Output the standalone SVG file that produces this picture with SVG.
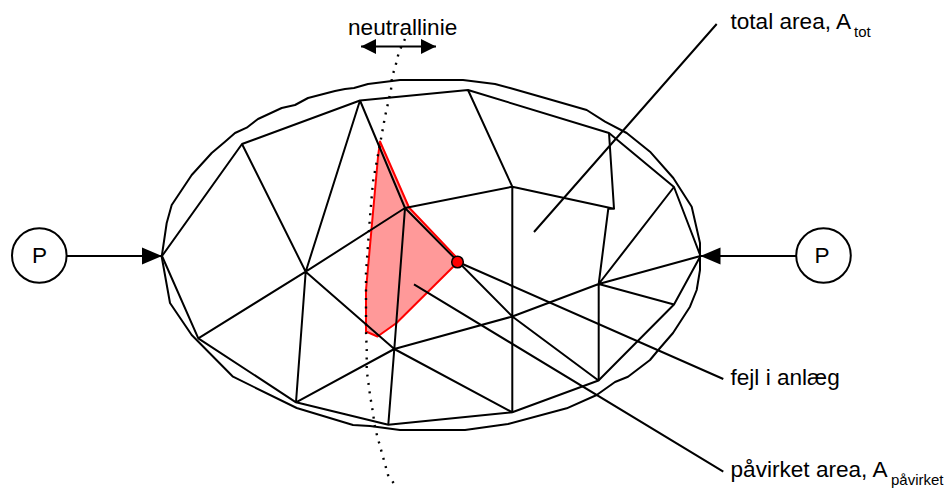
<svg xmlns="http://www.w3.org/2000/svg" width="951" height="488" viewBox="0 0 951 488">
<style>
.l{fill:none;stroke:#000;stroke-width:2;stroke-linejoin:round}
.t{font-family:"Liberation Sans",Arial,sans-serif;font-size:22.6px;fill:#000}
.s{font-size:15px}
.h{fill:#000;stroke:none}
</style>
<defs>
<marker id="a" markerUnits="userSpaceOnUse" markerWidth="20" markerHeight="18" refX="20" refY="9" orient="auto-start-reverse"><path class="h" d="M0 0.5L20 9L0 17.5Z"/></marker>
<marker id="b" markerUnits="userSpaceOnUse" markerWidth="15" markerHeight="16" refX="15" refY="8" orient="auto-start-reverse"><path class="h" d="M0 0.5L15 8L0 15.5Z"/></marker>
</defs>
<rect width="951" height="488" fill="#fff"/>
<g id="outline"><path class="l" d="M161.700 256.700L166.700 223L171.700 205L191.700 175L211.700 153L225 141.700L235 133L246.700 127.700L258 119L281.700 108L295 105L308 98L335 91L345 89L354 88L368 84L400 80L463 80L495 84L510 88L545 98L586.700 110L605 121.700L626.700 133L650 151.700L673.300 178L691.700 206.700L700 243L700 270L696.700 290L690 306.700L673 333L660 348L650 360L628 376.700L615 382L596.700 395L566.700 408.300L508 424L465 430L400 430L370 426L353 425L296.700 408L233 376.700L191.700 335L170 303Z"/></g>
<g id="affected-area"><path d="M380 141.500L409 207.500L457 258L458 262L396.500 323L377.500 336.500L366 331.500L366 290L378 157Z" fill="#ff9999" stroke="#f00" stroke-width="2" stroke-linejoin="round"/></g>
<g id="mesh"><path class="l" d="M162 256L242 144L360 100.500L468 90L609 133L674 187L700.500 256L674 304.500L598.500 380.500L512.300 412.300L388.300 424.700L296 402.300L198.300 338.300Z"/>
<path class="l" d="M242 144L305.700 271.700M360 100.500L305.700 271.700M198.300 338.300L305.700 271.700L405 208L360 100.500M305.700 271.700L296 402.300M305.700 271.700L394.300 349M296 402.300L394.300 349L388.300 424.700M394.300 349L405 208M394.300 349L512.300 412.300M405 208L512.300 186.700L468 90M405 208L512.300 316.500L598.500 380.500M512.300 186.700V412.300M512.300 186.700L614 208.700L609 133M614 208.700H608.300L598.700 284M394.300 349L512.300 316.500L598.700 284L700.500 256M598.700 284L674 187M598.700 284L674 304.500M598.700 284V380.500"/></g>
<g id="neutral-line"><path d="M405 39L399 51.700L395 68L392 76.700L391 90L385 116.700L381.700 135L373 181.700L370 216.700L366 273L366 330L366.700 350L366.700 370L370 395L373 413L375 428L388 475L395 485" fill="none" stroke="#000" stroke-width="2.400" stroke-dasharray="2 6.500"/></g>
<g id="connectors">
<path class="l" d="M67 256H162" marker-end="url(#a)"/>
<path class="l" d="M796 256H700.500" marker-end="url(#a)"/>
<path class="l" d="M361 46.500H436" marker-start="url(#b)" marker-end="url(#b)"/>
<path class="l" d="M534 232L716.700 24M458 262L723.300 379M414 284.300L723.300 471.700"/>
</g>
<g id="fault"><circle cx="457.500" cy="262" r="5.800" fill="#f00" stroke="#000" stroke-width="1.500"/></g>
<g id="p-left"><circle cx="39.300" cy="255.500" r="27.300" fill="#fff" stroke="#000" stroke-width="2"/><text class="t" x="39.500" y="263" text-anchor="middle">P</text></g>
<g id="p-right"><circle cx="823.500" cy="255.500" r="27.300" fill="#fff" stroke="#000" stroke-width="2"/><text class="t" x="822" y="263" text-anchor="middle">P</text></g>
<g id="label-neutral"><text class="t" x="348" y="35">neutrallinie</text></g>
<g id="label-total"><text class="t" x="730.500" y="29">total area, A</text><text class="t s" x="854" y="37">tot</text></g>
<g id="label-fault"><text class="t" x="730.500" y="385">fejl i anlæg</text></g>
<g id="label-affected"><text class="t" x="730.500" y="477">påvirket area, A</text><text class="t s" x="891" y="485">påvirket</text></g>
</svg>
